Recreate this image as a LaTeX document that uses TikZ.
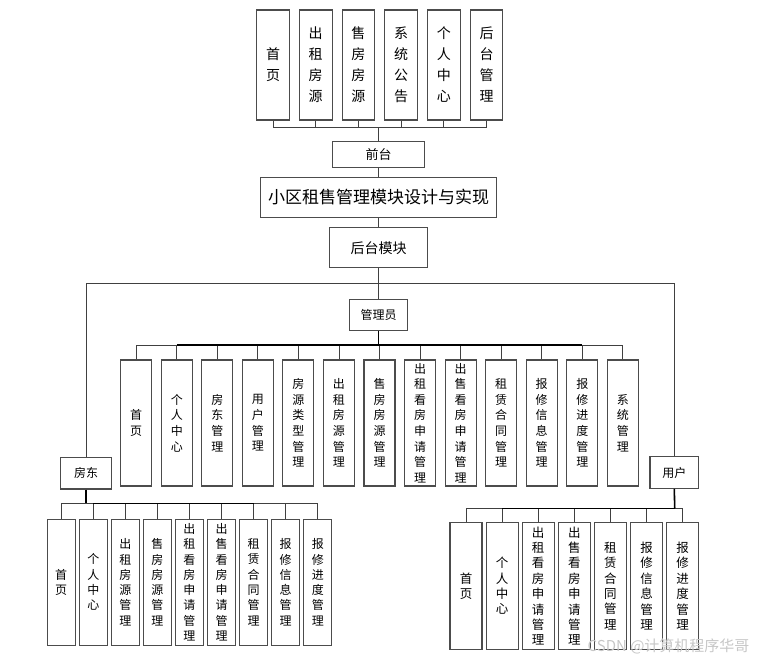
\documentclass[tikz,border=0pt]{standalone}
\usepackage{fontspec}
\setmainfont{Noto Sans CJK SC}
\usepackage{tikz}
\usetikzlibrary{positioning}

\begin{document}
\begin{tikzpicture}[x=1pt, y=-1pt,
		box/.style={draw=black!70, line width=1.1pt, inner sep=0pt, align=center},
		conn/.style={draw=black!75, line width=0.9pt},
		bus/.style={draw=black, line width=1.6pt}]
	\useasboundingbox (0,0) rectangle (759,660);
	% 前台
	\foreach \t [count=\i from 0] in {首\\页, 出\\租\\房\\源, 售\\房\\房\\源, 系\\统\\公\\告, 个\\人\\中\\心, 后\\台\\管\\理}
		\node[box, minimum width=32.7pt, minimum height=110pt, font=\fontsize{14}{21}\selectfont] (t\i) at (273+42.7*\i, 65) {\t};
	\coordinate (tbus) at (378.5, 127.7);
	\node[box, minimum width=91.3pt, minimum height=25.6pt, font=\fontsize{13}{13}\selectfont] (qt) at (378.5, 154.5) {前台};
	\node[box, minimum width=235.3pt, minimum height=40.4pt, font=\fontsize{17}{17}\selectfont] (title) at (378.5, 197.5) {小区租售管理模块设计与实现};
	\node[box, minimum width=98pt, minimum height=40pt, font=\fontsize{14}{14}\selectfont] (ht) at (378.5, 247.7) {后台模块};
	\foreach \i in {0,...,5}
		\draw[conn] (t\i.south) |- (tbus);
	\draw[conn] (tbus) -- (qt.north);
	\draw[conn] (qt.south) -- (title.north);
	\draw[conn] (title.south) -- (ht.north);

	% 后台: 管理员, 房东, 用户
	\coordinate (hbus) at (378.5, 283.3);
	\node[box, minimum width=57.6pt, minimum height=30.7pt, font=\fontsize{12}{12}\selectfont] (adm) at (378.5, 314.7) {管理员};
	\node[box, minimum width=50.6pt, minimum height=31.3pt, font=\fontsize{12}{12}\selectfont] (fd) at (86, 473.3) {房东};
	\node[box, minimum width=48.7pt, minimum height=31.6pt, font=\fontsize{12}{12}\selectfont] (yh) at (674.3, 472.5) {用户};
	\draw[conn] (ht.south) -- (hbus) -- (adm.north);
	\draw[conn] (fd.north) |- (hbus) -| (yh.north);

	% 管理员
	\coordinate (abus) at (378.5, 345);
	\foreach \t [count=\i] in {首\\页, 个\\人\\中\\心, 房\\东\\管\\理, 用\\户\\管\\理, 房\\源\\类\\型\\管\\理, 出\\租\\房\\源\\管\\理, 售\\房\\房\\源\\管\\理, 出\\租\\看\\房\\申\\请\\管\\理, 出\\售\\看\\房\\申\\请\\管\\理, 租\\赁\\合\\同\\管\\理, 报\\修\\信\\息\\管\\理, 报\\修\\进\\度\\管\\理, 系\\统\\管\\理}
		\node[box, minimum width=31pt, minimum height=126pt, font=\fontsize{12}{15.6}\selectfont] (a\i) at (136.2+40.55*\i-40.55, 423) {\t};
	\draw[conn] (adm.south) -- (abus);
	\foreach \i in {1,...,13}
		\draw[conn] (abus) -| (a\i.north);
	\draw[bus] (adm.south) -- (abus);
	\draw[bus] (a2.north |- abus) -- (a12.north |- abus);

	% 房东
	\coordinate (lbus) at (86, 503.3);
	\foreach \t [count=\i] in {首\\页, 个\\人\\中\\心, 出\\租\\房\\源\\管\\理, 售\\房\\房\\源\\管\\理, 出\\租\\看\\房\\申\\请\\管\\理, 出\\售\\看\\房\\申\\请\\管\\理, 租\\赁\\合\\同\\管\\理, 报\\修\\信\\息\\管\\理, 报\\修\\进\\度\\管\\理}
		\node[box, minimum width=27.7pt, minimum height=125.7pt, font=\fontsize{12}{15.3}\selectfont] (l\i) at (61.2+32.07*\i-32.07, 582.2) {\t};
	\draw[conn] (fd.south) -- (lbus);
	\foreach \i in {1,...,9}
		\draw[conn] (lbus) -| (l\i.north);
	\draw[bus] (fd.south) -- (lbus);
	\draw[bus] (l2.north |- lbus) -- (l7.north |- lbus);

	% 用户
	\coordinate (ubus) at (674.7, 508.3);
	\foreach \t [count=\i] in {首\\页, 个\\人\\中\\心, 出\\租\\看\\房\\申\\请\\管\\理, 出\\售\\看\\房\\申\\请\\管\\理, 租\\赁\\合\\同\\管\\理, 报\\修\\信\\息\\管\\理, 报\\修\\进\\度\\管\\理}
		\node[box, minimum width=32pt, minimum height=126.6pt, font=\fontsize{12.5}{15.4}\selectfont] (u\i) at (466+36.1*\i-36.1, 586) {\t};
	\draw[conn] (yh.south) -- (ubus);
	\foreach \i in {1,...,7}
		\draw[conn] (ubus) -| (u\i.north);
	\draw[bus] (yh.south) -- (ubus);
	\draw[bus] (u2.north |- ubus) -- (ubus);

	\node[anchor=east, text=black!22, font=\fontsize{15}{15}\selectfont] (wm) at (753, 646) {CSDN @计算机程序华哥};
\end{tikzpicture}
\end{document}
